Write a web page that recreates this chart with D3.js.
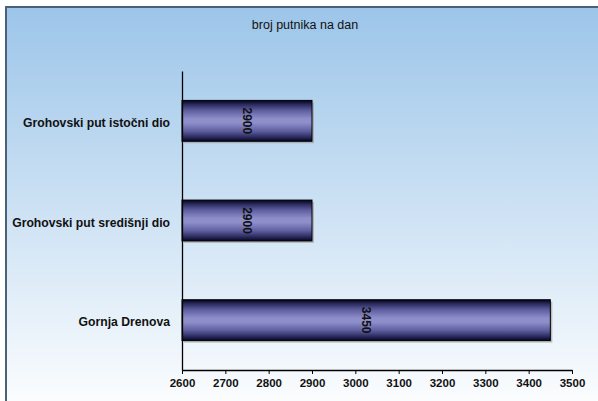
<!DOCTYPE html>
<html>
<head>
<meta charset="utf-8">
<script src="https://cdn.jsdelivr.net/npm/d3@7"></script>
<style>
  html, body { margin: 0; padding: 0; background: #ffffff; }
  svg { display: block; font-family: "Liberation Sans", Arial, sans-serif; }
</style>
</head>
<body>
<svg id="chart" width="598" height="401"></svg>
<script>
// Data
const chartTitle = "broj putnika na dan";
const categories = ["Grohovski put istočni dio", "Grohovski put središnji dio", "Gornja Drenova"];
const values = [2900, 2900, 3450];
const tickValues = [2600, 2700, 2800, 2900, 3000, 3100, 3200, 3300, 3400, 3500];

const svg = d3.select("#chart");
const W = 598, H = 401;
const plot = { left: 182, right: 572, top: 71, bottom: 370 };

const defs = svg.append("defs");

// Background: light blue fading to white
const bg = defs.append("linearGradient").attr("id", "bgGrad")
  .attr("x1", 0).attr("y1", 0).attr("x2", 0).attr("y2", 1);
bg.append("stop").attr("offset", "0%").attr("stop-color", "#9cc5e9");
bg.append("stop").attr("offset", "100%").attr("stop-color", "#ffffff");

// Bar fill: dark edges, lavender centre
const barGrad = defs.append("linearGradient").attr("id", "barGrad")
  .attr("x1", 0).attr("y1", 0).attr("x2", 0).attr("y2", 1);
[
  ["0%", "#02021a"], ["10%", "#2a2a5e"], ["25%", "#5f5fa0"], ["45%", "#8e8ecb"],
  ["55%", "#8e8ecb"], ["75%", "#5f5fa0"], ["90%", "#2a2a5e"], ["100%", "#05051f"]
].forEach(([o, c]) => barGrad.append("stop").attr("offset", o).attr("stop-color", c));

// Frame
svg.append("rect")
  .attr("x", 6).attr("y", 7).attr("width", W + 10).attr("height", H + 10)
  .attr("fill", "url(#bgGrad)")
  .attr("stroke", "#4b6178").attr("stroke-width", 2);

// Title
svg.append("text")
  .attr("x", 305).attr("y", 29)
  .attr("text-anchor", "middle")
  .attr("font-size", 12.5)
  .attr("fill", "#111")
  .text(chartTitle);

// Scales
const x = d3.scaleLinear().domain([tickValues[0], tickValues[tickValues.length - 1]])
  .range([plot.left, plot.right]);
const y = d3.scaleBand().domain(categories).range([plot.top, plot.bottom])
  .paddingInner(0.59).paddingOuter(0.295);

const rows = categories.map((c, i) => ({ cat: c, val: values[i] }));

// Bar shadows
svg.append("g").selectAll("rect").data(rows).join("rect")
  .attr("x", x(tickValues[0]) + 2)
  .attr("y", d => y(d.cat) + 2)
  .attr("width", d => x(d.val) - x(tickValues[0]))
  .attr("height", y.bandwidth())
  .attr("fill", "#9a9a9a").attr("opacity", 0.6);

// Bars
svg.append("g").selectAll("rect").data(rows).join("rect")
  .attr("x", x(tickValues[0]))
  .attr("y", d => y(d.cat))
  .attr("width", d => x(d.val) - x(tickValues[0]))
  .attr("height", y.bandwidth())
  .attr("fill", "url(#barGrad)")
  .attr("stroke", "#000").attr("stroke-width", 1);

// Value labels, rotated
svg.append("g").selectAll("text").data(rows).join("text")
  .attr("transform", d => `translate(${(x(tickValues[0]) + x(d.val)) / 2},${y(d.cat) + y.bandwidth() / 2}) rotate(90)`)
  .attr("text-anchor", "middle")
  .attr("dy", "0.35em")
  .attr("font-size", 12).attr("font-weight", "bold")
  .attr("fill", "#111")
  .text(d => d.val);

// X axis
const xAxis = svg.append("g")
  .attr("transform", `translate(0,${plot.bottom})`)
  .call(d3.axisBottom(x).tickValues(tickValues).tickSize(4).tickSizeOuter(0).tickFormat(d3.format("d")));
xAxis.select(".domain").attr("stroke", "#000").attr("stroke-width", 1.3);
xAxis.selectAll(".tick line").attr("stroke", "#000");
xAxis.selectAll(".tick text")
  .attr("font-family", "Liberation Sans, Arial, sans-serif")
  .attr("font-size", 11.5).attr("font-weight", "bold").attr("fill", "#111")
  .attr("dy", "0.85em");

// Y axis
const yAxis = svg.append("g")
  .attr("transform", `translate(${plot.left},0)`)
  .call(d3.axisLeft(y).tickSize(0).tickSizeOuter(0).tickPadding(12));
yAxis.select(".domain").attr("stroke", "#000").attr("stroke-width", 1.3);
yAxis.selectAll(".tick text")
  .attr("font-family", "Liberation Sans, Arial, sans-serif")
  .attr("font-size", 12.2).attr("font-weight", "bold").attr("fill", "#111")
  .attr("dy", "0.5em");
</script>
</body>
</html>
